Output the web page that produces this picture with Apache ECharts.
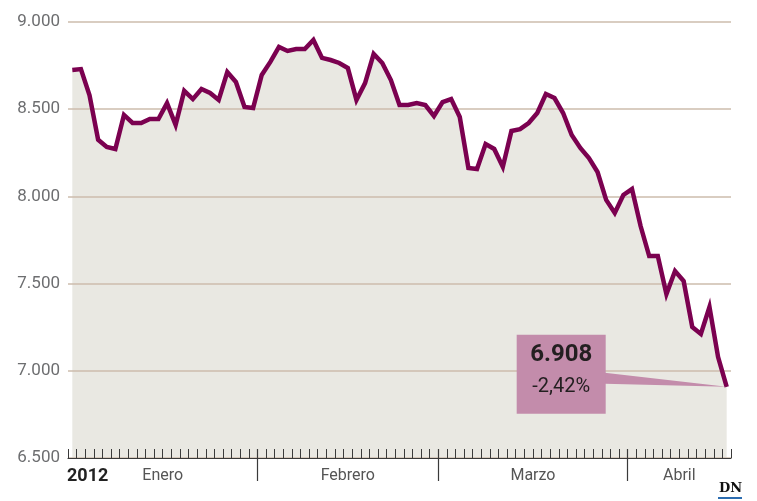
<!DOCTYPE html>
<html>
<head>
<meta charset="utf-8">
<title>IBEX 2012</title>
<script src="https://cdn.jsdelivr.net/npm/echarts@6/dist/echarts.min.js"></script>
<style>
    html, body { margin: 0; padding: 0; background: #fff; }
    #c1 { width: 757px; height: 501px; }
</style>
</head>
<body>
<div id="c1"></div>
<script>
// 月份
var meses = ['Enero', 'Febrero', 'Marzo', 'Abril'];
// 每日收盘
var enero = [8725, 8730, 8580, 8325, 8283, 8272, 8467, 8421, 8421, 8444, 8444,
    8535, 8410, 8605, 8558, 8616, 8593, 8553, 8713, 8656, 8513, 8507];
var febrero = [8696, 8771, 8857, 8834, 8845, 8845, 8897, 8794, 8782, 8765, 8736,
    8553, 8650, 8817, 8765, 8667, 8524, 8524, 8535, 8524, 8461];
var marzo = [8541, 8558, 8455, 8163, 8157, 8300, 8272, 8169, 8375, 8386, 8421,
    8478, 8587, 8564, 8478, 8352, 8278, 8220, 8140, 7980, 7905, 8008];
var abril = [8042, 7830, 7658, 7658, 7440, 7572, 7515, 7251, 7211, 7366, 7079, 6908];
// y轴刻度
var yTicks = [6500, 7000, 7500, 8000, 8500, 9000];
// 标注
var ultimo = '6.908';
var variacion = '-2,42%';
var anio = '2012';

var FONT = 'Roboto, "Liberation Sans", sans-serif';

initChart();

function initChart() {
    var dom = document.getElementById('c1');
    var chart = echarts.init(dom, null, {renderer: 'canvas'});

    var meseData = [enero, febrero, marzo, abril];
    var valores = [].concat(enero, febrero, marzo, abril);
    var data = valores.map(function (v, i) {
        return [i, v];
    });
    //月份分隔及标签位置
    var cortes = [];
    var centros = [];
    var acum = 0;
    meseData.forEach(function (arr, k) {
        centros.push(acum + (arr.length - 1) / 2);
        acum += arr.length;
        if (k < meseData.length - 1) {
            cortes.push(acum - 0.5);
        }
    });
    var n = valores.length;

    var option = {
        animation: false,
        grid: {left: 68, right: 26, top: 22, bottom: 43},
        xAxis: [{
            type: 'value',
            min: -0.5,
            max: n - 0.5,
            interval: 1,
            z: 4,
            axisLine: {show: true, lineStyle: {color: '#3a3a3a', width: 1.2}},
            axisTick: {show: true, inside: true, length: 9, lineStyle: {color: '#3a3a3a', width: 1}},
            axisLabel: {show: false},
            splitLine: {show: false}
        }, {
            type: 'value',
            min: -0.5,
            max: n - 0.5,
            position: 'bottom',
            offset: -9,
            z: 4,
            axisLine: {show: false},
            axisTick: {
                show: true, inside: false, length: 32,
                customValues: cortes,
                lineStyle: {color: '#3a3a3a', width: 1.2}
            },
            axisLabel: {
                show: true,
                customValues: centros,
                margin: 19,
                color: '#555',
                fontFamily: FONT,
                fontSize: 16,
                formatter: function (v) {
                    var idx = centros.indexOf(v);
                    return idx > -1 ? meses[idx] : '';
                }
            },
            splitLine: {show: false}
        }],
        yAxis: {
            type: 'value',
            min: yTicks[0],
            max: yTicks[yTicks.length - 1],
            interval: 500,
            z: 2,
            axisLine: {show: false},
            axisTick: {show: false},
            axisLabel: {
                color: '#6d6e70',
                fontFamily: FONT,
                fontSize: 17,
                margin: 8,
                formatter: function (v) {
                    return String(v).replace(/\B(?=(\d{3})+(?!\d))/g, '.');
                }
            },
            splitLine: {show: true, lineStyle: {color: '#cdbdac', width: 1.5}}
        },
        series: [{
            //底色面积
            type: 'line',
            data: data,
            z: 1,
            symbol: 'none',
            silent: true,
            lineStyle: {width: 0},
            areaStyle: {color: '#e9e8e2', opacity: 1, origin: 'start'}
        }, {
            //折线
            type: 'line',
            data: data,
            z: 3,
            symbol: 'none',
            lineStyle: {color: '#7b0150', width: 4.5, join: 'miter'}
        }]
    };
    chart.setOption(option);

    //标注框
    var p = chart.convertToPixel({xAxisIndex: 0, yAxisIndex: 0}, [n - 1, valores[n - 1]]);
    var bx = p[0] - 210;
    var by = p[1] - 52;
    chart.setOption({
        graphic: [{
            type: 'polygon',
            z: 10,
            shape: {points: [[bx + 88, by + 38], [p[0], p[1]], [bx + 88, by + 49]]},
            style: {fill: '#c38cab'}
        }, {
            type: 'rect',
            z: 10,
            shape: {x: bx, y: by, width: 89, height: 79},
            style: {fill: '#c38cab'}
        }, {
            type: 'text',
            z: 11,
            x: bx + 44.5,
            y: by + 20,
            style: {
                text: ultimo, fill: '#231f20', font: 'bold 24px ' + FONT,
                align: 'center', verticalAlign: 'middle'
            }
        }, {
            type: 'text',
            z: 11,
            x: bx + 44.5,
            y: by + 52,
            style: {
                text: variacion, fill: '#231f20', font: '20px ' + FONT,
                align: 'center', verticalAlign: 'middle'
            }
        }, {
            type: 'text',
            z: 11,
            left: 67,
            top: 467,
            style: {text: anio, fill: '#222', font: 'bold 18px ' + FONT}
        }, {
            //logo
            type: 'text',
            z: 11,
            left: 719,
            top: 482,
            style: {text: 'DN', fill: '#111', font: 'bold 13px "DejaVu Serif", "Liberation Serif", serif'}
        }, {
            type: 'rect',
            z: 11,
            left: 718,
            top: 497,
            shape: {width: 24, height: 2},
            style: {fill: '#2b6cb0'}
        }]
    });
}
</script>
</body>
</html>
